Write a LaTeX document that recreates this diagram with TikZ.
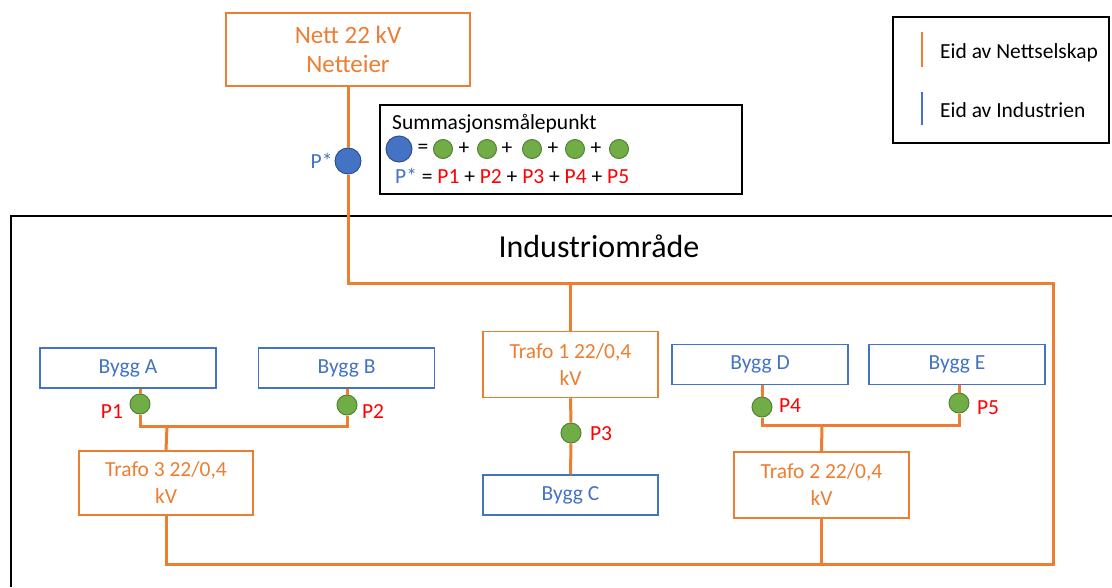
\documentclass[tikz,border=0pt]{standalone}
\usepackage{fontspec}
\setmainfont{Carlito}
\usetikzlibrary{calc}
\definecolor{nettor}{HTML}{ED7D31}\definecolor{indbl}{HTML}{4472C4}\definecolor{malgr}{HTML}{70AD47}\definecolor{malgrd}{HTML}{548235}\definecolor{indbld}{HTML}{2F528F}
\tikzset{every node/.style={font=\fontsize{21.5}{27}\selectfont},
  nettbox/.style={draw=nettor,line width=1.5pt,text=nettor,inner sep=0pt,align=center},
  byggbox/.style={draw=indbl,line width=1.5pt,text=indbl,inner sep=0pt,minimum width=176pt,minimum height=40pt},
  net/.style={nettor,line width=3pt},
  malpkt/.style={circle,fill=malgr,draw=malgrd,line width=1pt,minimum size=20pt,inner sep=0pt},
  sumpkt/.style={circle,fill=indbl,draw=indbld,line width=1pt,minimum size=26pt,inner sep=0pt},
  plab/.style={text=red}}
\begin{document}
\begin{tikzpicture}[x=1pt,y=-1pt]
\useasboundingbox (0,0) rectangle (1112,587);
% Industriomraade
\draw[line width=2.5pt] (11,587)--(11,216)--(1112,216);
\node (omr) at (599,246) {\fontsize{32}{38}\selectfont Industriområde};
% nett og summasjonsmaaling
\node[nettbox,minimum width=244pt,minimum height=73pt,font=\fontsize{25}{29}\selectfont] (nett) at (348,49.5) {Nett 22 kV\\Netteier};
\node[sumpkt] (pstar) at (348,161) {};\node[text=indbl,left] (pstarlab) at (336,161) {P*};
% trafoer og bygg
\node[nettbox,minimum width=175pt,minimum height=66pt] (trafoI) at (570.5,364.5) {Trafo 1 22/0,4\\kV};
\node[nettbox,minimum width=175pt,minimum height=66pt] (trafoII) at (821.5,485) {Trafo 2 22/0,4\\kV};
\node[nettbox,minimum width=174pt,minimum height=64pt] (trafoIII) at (166,483) {Trafo 3 22/0,4\\kV};
\node[byggbox] (byggA) at (128,368) {Bygg A};\node[byggbox] (byggB) at (346.5,368) {Bygg B};
\node[byggbox,minimum width=175pt] (byggC) at (570.5,495) {Bygg C};
\node[byggbox] (byggD) at (760,364.5) {Bygg D};\node[byggbox] (byggE) at (957,364.5) {Bygg E};
% maalepunkter
\node[malpkt] (pI) at (140,404) {};\node[plab] (pIlab) at (112,412) {P1};
\node[malpkt] (pII) at (347,405) {};\node[plab] (pIIlab) at (373,412) {P2};
\node[malpkt] (pIII) at (571,433) {};\node[plab] (pIIIlab) at (601,434) {P3};
\node[malpkt] (pIV) at (762,407) {};\node[plab] (pIVlab) at (790,406) {P4};
\node[malpkt] (pV) at (959,403) {};\node[plab] (pVlab) at (988,408) {P5};
\coordinate (ringTR) at (1053,283);\coordinate (ringBR) at (1053,564);
\coordinate (busAB) at (167,426);\coordinate (busDE) at (822,425);
% ledninger
\draw[net] (nett.south)--(pstar.north);
\draw[net] (pstar.south)|-(ringTR)--(ringBR)-|(trafoIII.south);
\draw[net] (trafoI.north)--(trafoI.north|-ringTR);\draw[net] (trafoII.south)--(trafoII.south|-ringBR);
\draw[net] (trafoI.south)--(pIII.north);\draw[net] (pIII.south)--(byggC.north);
\draw[net] (pI|-byggA.south)--(pI.north);\draw[net] (pII|-byggB.south)--(pII.north);
\draw[net] (pI.south)|-(busAB)-|(pII.south);\draw[net] (busAB)--(trafoIII.north);
\draw[net] (pIV|-byggD.south)--(pIV.north);\draw[net] (pV|-byggE.south)--(pV.north);
\draw[net] (pIV.south)|-(busDE)-|(pV.south);\draw[net] (busDE)--(trafoII.north);
% summasjonsboks
\draw[line width=1.5pt] (380,105) rectangle (742,194);
\node[right,inner sep=0pt] (sumtit) at (392,124) {Summasjonsmålepunkt};
\node[sumpkt] (sumblue) at (399,149) {};\node (sumeq) at (423,149) {=};
\foreach \x/\n in {443/1,487/2,532/3,575/4,619/5}{\node[malpkt,minimum size=19pt] (sumg\n) at (\x,149) {};}
\foreach \x in {464,507,553,596}{\node at (\x,149) {+};}
\node[right,inner sep=0pt] (sumfml) at (395,176) {{\color{indbl}P*} = {\color{red}P1} + {\color{red}P2} + {\color{red}P3} + {\color{red}P4} + {\color{red}P5}};
% forklaring
\draw[line width=1.5pt] (893,17) rectangle (1109,143);
\coordinate (legOa) at (922,32);\coordinate (legOb) at (922,67);\coordinate (legBa) at (922,92);\coordinate (legBb) at (922,125);
\draw[nettor,line width=2pt] (legOa)--(legOb);\draw[indbl,line width=2pt] (legBa)--(legBb);
\node[right,inner sep=0pt] (legO) at (940,53) {Eid av Nettselskap};
\node[right,inner sep=0pt] (legB) at (940,110) {Eid av Industrien};
\end{tikzpicture}
\end{document}
